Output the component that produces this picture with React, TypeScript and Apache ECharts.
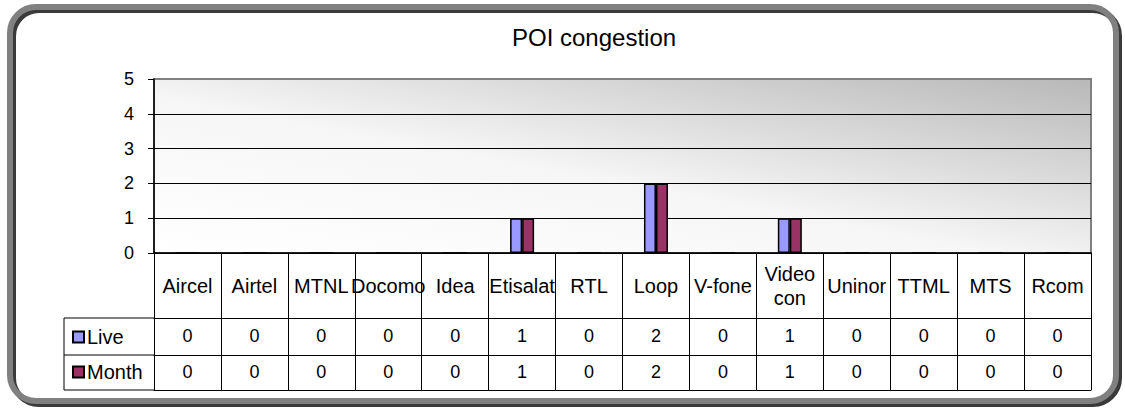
import React, { useEffect, useRef } from "react";
import * as echarts from "echarts";

const categories = ["Aircel", "Airtel", "MTNL", "Docomo", "Idea", "Etisalat", "RTL", "Loop", "V-fone", "Video con", "Uninor", "TTML", "MTS", "Rcom"];
const liveValues = [0, 0, 0, 0, 0, 1, 0, 2, 0, 1, 0, 0, 0, 0];
const monthValues = [0, 0, 0, 0, 0, 1, 0, 2, 0, 1, 0, 0, 0, 0];
const seriesNames = ["Live", "Month"];
const yTicks = [0, 1, 2, 3, 4, 5];
const titleText = "POI congestion";

const FONT = "'Liberation Sans', Arial, sans-serif";

export default function App() {
  const ref = useRef<HTMLDivElement>(null);
  useEffect(() => {
    if (!ref.current) return;
    const chart = echarts.init(ref.current, undefined, { renderer: "svg" });
    const gridLeft = 154, gridRight = 1091, gridTop = 79, gridBottom = 253;
    const tableLeft = 64, row1 = 318, row2 = 355, row3 = 390;
    const lineBlack = { color: "#000", width: 1 };
    chart.setOption({
      animation: false,
      backgroundColor: "#ffffff",
      textStyle: { fontFamily: FONT },
      title: {
        text: titleText,
        left: 507,
        top: 20,
        textStyle: { fontFamily: FONT, fontSize: 24, fontWeight: "normal", color: "#000" },
      },
      legend: {
        data: seriesNames,
        orient: "vertical",
        left: 67,
        top: 322,
        itemWidth: 11,
        itemHeight: 11,
        itemGap: 15,
        icon: "rect",
        textStyle: { fontFamily: FONT, fontSize: 20, color: "#000", lineHeight: 20, padding: [0, 0, 0, -2] },
        selectedMode: false,
      },
      grid: {
        left: gridLeft,
        right: 1125 - gridRight,
        top: gridTop,
        bottom: 409 - gridBottom,
        show: true,
        borderColor: "#808080",
        borderWidth: 2,
        backgroundColor: new echarts.graphic.LinearGradient(0, 1, 1, 0, [
          { offset: 0, color: "#ffffff" },
          { offset: 0.45, color: "#f6f6f6" },
          { offset: 1, color: "#b8b8b8" },
        ]),
      },
      xAxis: [
        {
          type: "category",
          data: categories,
          position: "bottom",
          axisLine: { show: true, lineStyle: { color: "#000", width: 1.5 } },
          axisTick: { show: true, interval: 0, length: row1 - gridBottom, lineStyle: lineBlack },
          axisLabel: {
            interval: 0,
            margin: 33,
            verticalAlign: "middle",
            lineHeight: 24,
            fontFamily: FONT,
            fontSize: 20,
            color: "#000",
            formatter: (v: string) => v.replace(" ", "\n"),
          },
          splitLine: { show: false },
        },
        {
          type: "category",
          data: categories,
          position: "bottom",
          offset: row1 - gridBottom,
          axisLine: { show: true, lineStyle: lineBlack },
          axisTick: { show: true, interval: 0, length: row2 - row1, lineStyle: lineBlack },
          axisLabel: {
            interval: 0,
            margin: 18,
            verticalAlign: "middle",
            fontFamily: FONT,
            fontSize: 18,
            color: "#000",
            formatter: (_v: string, i: number) => String(liveValues[i]),
          },
        },
        {
          type: "category",
          data: categories,
          position: "bottom",
          offset: row2 - gridBottom,
          axisLine: { show: true, lineStyle: lineBlack },
          axisTick: { show: true, interval: 0, length: row3 - row2, lineStyle: lineBlack },
          axisLabel: {
            interval: 0,
            margin: 17,
            verticalAlign: "middle",
            fontFamily: FONT,
            fontSize: 18,
            color: "#000",
            formatter: (_v: string, i: number) => String(monthValues[i]),
          },
        },
        {
          type: "category",
          data: categories,
          position: "bottom",
          offset: row3 - gridBottom,
          axisLine: { show: true, lineStyle: lineBlack },
          axisTick: { show: false },
          axisLabel: { show: false },
        },
      ],
      yAxis: {
        type: "value",
        min: yTicks[0],
        max: yTicks[yTicks.length - 1],
        interval: 1,
        axisLine: { show: true, lineStyle: { color: "#000", width: 1.5 } },
        axisTick: { show: true, length: 6, lineStyle: { color: "#000", width: 1 } },
        axisLabel: { margin: 20, fontFamily: FONT, fontSize: 18, color: "#000" },
        splitLine: { show: true, lineStyle: { color: ["#000", "#000", "#000", "#000", "#000", "#808080"], width: 1.2 } },
      },
      series: [
        {
          name: seriesNames[0],
          type: "bar",
          data: liveValues,
          barWidth: 12,
          barGap: "0%",
          itemStyle: { color: "#9999ff", borderColor: "#000", borderWidth: 1.5 },
        },
        {
          name: seriesNames[1],
          type: "bar",
          data: monthValues,
          barWidth: 12,
          barGap: "0%",
          itemStyle: { color: "#993366", borderColor: "#000", borderWidth: 1.5 },
        },
      ],
      graphic: [
        {
          type: "rect",
          z: -1,
          shape: { x: 13, y: 10, width: 1106, height: 394, r: 26 },
          style: { fill: "none", stroke: "#3a3a3a", lineWidth: 6 },
        },
        {
          type: "rect",
          z: 0,
          shape: { x: 10, y: 7, width: 1106, height: 394, r: 26 },
          style: { fill: "none", stroke: "#808080", lineWidth: 6 },
        },
        { type: "line", shape: { x1: tableLeft, y1: row1, x2: gridLeft, y2: row1 }, style: { stroke: "#000", lineWidth: 1 } },
        { type: "line", shape: { x1: tableLeft, y1: row2, x2: gridLeft, y2: row2 }, style: { stroke: "#000", lineWidth: 1 } },
        { type: "line", shape: { x1: tableLeft, y1: row3, x2: gridLeft, y2: row3 }, style: { stroke: "#000", lineWidth: 1 } },
        { type: "line", shape: { x1: tableLeft, y1: row1, x2: tableLeft, y2: row3 }, style: { stroke: "#000", lineWidth: 1 } },
      ],
    });
    return () => chart.dispose();
  }, []);
  return (
    <div
      ref={ref}
      style={{ position: "fixed", left: 0, top: 0, width: 1125, height: 409, background: "#fff" }}
    />
  );
}
